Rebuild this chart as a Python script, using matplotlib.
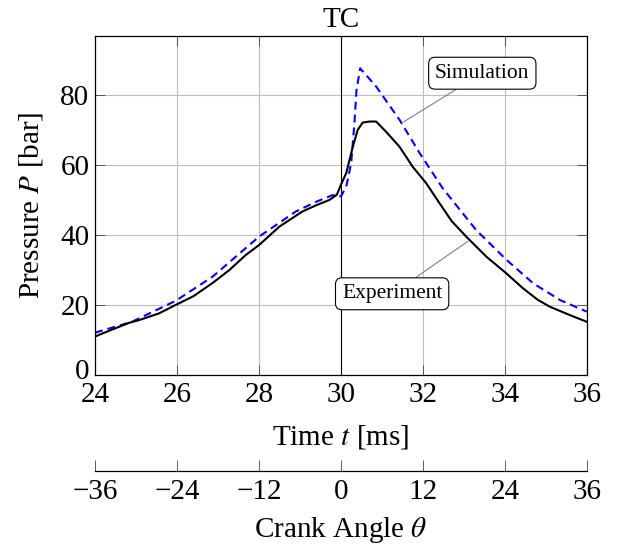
import matplotlib
matplotlib.use('Agg')

import matplotlib.pyplot as plt
from matplotlib.transforms import ScaledTranslation

# Data
t_exp = [24.0, 24.4, 24.83, 25.08, 25.56, 26.0, 26.4, 26.87, 27.28, 27.68, 28.0,
         28.5, 29.06, 29.4, 29.72, 29.9, 30.0, 30.13, 30.21, 30.29, 30.41, 30.53,
         30.7, 30.86, 31.1, 31.43, 31.75, 32.08, 32.41, 32.7, 33.06, 33.55,
         34.04, 34.44, 34.8, 35.1, 35.59, 36.0]
p_exp = [11.0, 12.9, 14.9, 15.7, 17.6, 20.2, 22.5, 26.3, 30.0, 34.3, 37.1,
         42.4, 46.7, 48.5, 50.0, 51.5, 54.3, 57.7, 61.4, 65.2, 70.0, 72.1,
         72.4, 72.4, 69.5, 65.2, 59.5, 54.8, 49.0, 44.0, 39.5, 33.8,
         29.0, 24.8, 21.5, 19.5, 17.1, 15.2]

t_sim = [24.0, 24.9, 25.97, 26.87, 28.0, 28.9, 29.4, 29.8, 30.0, 30.13, 30.25,
         30.33, 30.38, 30.47, 30.86, 31.43, 31.92, 32.48, 33.3, 34.04, 34.69,
         35.35, 36.0]
p_sim = [12.1, 15.2, 21.2, 28.1, 39.5, 46.7, 49.5, 51.4, 51.0, 53.8, 60.5,
         72.0, 81.4, 87.6, 82.4, 72.9, 63.4, 53.4, 41.4, 32.9, 26.2,
         21.4, 18.1]

t_tc = 30.0
x_ticks = [24, 26, 28, 30, 32, 34, 36]
y_ticks = [0, 20, 40, 60, 80]
angle_ticks = [-36, -24, -12, 0, 12, 24, 36]

plt.rcParams['font.family'] = ['Liberation Serif', 'DejaVu Serif']
plt.rcParams['mathtext.fontset'] = 'stix'

fs = 21

fig = plt.figure(figsize=(6.19, 5.47), dpi=100)
ax = fig.add_axes([0.1535, 0.3144, 0.7945, 0.6196])

ax.grid(True, color='#bdbdbd', lw=0.8)
ax.set_axisbelow(True)

ax.axvline(t_tc, color='black', lw=0.8)
ax.plot(t_sim, p_sim, color='blue', lw=1.5, linestyle=(0, (3.8, 2.4)))
ax.plot(t_exp, p_exp, color='black', lw=1.5)

ax.set_xlim(24, 36)
ax.set_ylim(0, 96.8)
ax.set_xticks(x_ticks)
ax.set_yticks(y_ticks)
ax.tick_params(direction='in', length=7, width=0.6, labelsize=fs,
               top=True, right=True, color='#444444')
ax.tick_params(axis='x', pad=5)
ax.tick_params(axis='y', pad=4)
for s in ax.spines.values():
    s.set_linewidth(0.9)
# lift the "0" a few pixels so it sits just above the "24"
lbl0 = ax.yaxis.get_major_ticks()[0].label1
lbl0.set_transform(lbl0.get_transform() + ScaledTranslation(0, 4 / 72, fig.dpi_scale_trans))

ax.set_xlabel(r'Time $t$ [ms]', fontsize=fs, labelpad=11)
ax.set_ylabel(r'Pressure $P$ [bar]', fontsize=fs, labelpad=11)

ax.text(t_tc, 1.01, 'TC', transform=ax.get_xaxis_transform(),
        ha='center', va='bottom', fontsize=fs)

box = dict(boxstyle='round,pad=0.3,rounding_size=0.3', fc='white', ec='black', lw=0.8)
arrow = dict(arrowstyle='-', color='#808080', lw=0.8, shrinkA=0, shrinkB=0)
ax.annotate('Simulation', xy=(31.53, 72.3), xytext=(33.45, 86.2),
            ha='center', va='center', fontsize=15.5, bbox=box, arrowprops=arrow)
ax.annotate('Experiment', xy=(33.1, 38.2), xytext=(31.25, 23.2),
            ha='center', va='center', fontsize=15.5, bbox=box, arrowprops=arrow)

# Crank angle axis below
sec = ax.secondary_xaxis(-0.283, functions=(lambda t: (t - 30) * 6,
                                             lambda a: a / 6 + 30))
sec.set_xticks(angle_ticks)
sec.set_xticklabels([str(a).replace('-', '\u2212') for a in angle_ticks])
sec.tick_params(direction='in', length=8, width=0.6, labelsize=fs, pad=6,
                color='#444444')
sec.spines['bottom'].set_linewidth(0.9)
sec.set_xlabel(r'Crank Angle $\theta$', fontsize=fs, labelpad=7)

fig.savefig('out.png', dpi=100)
